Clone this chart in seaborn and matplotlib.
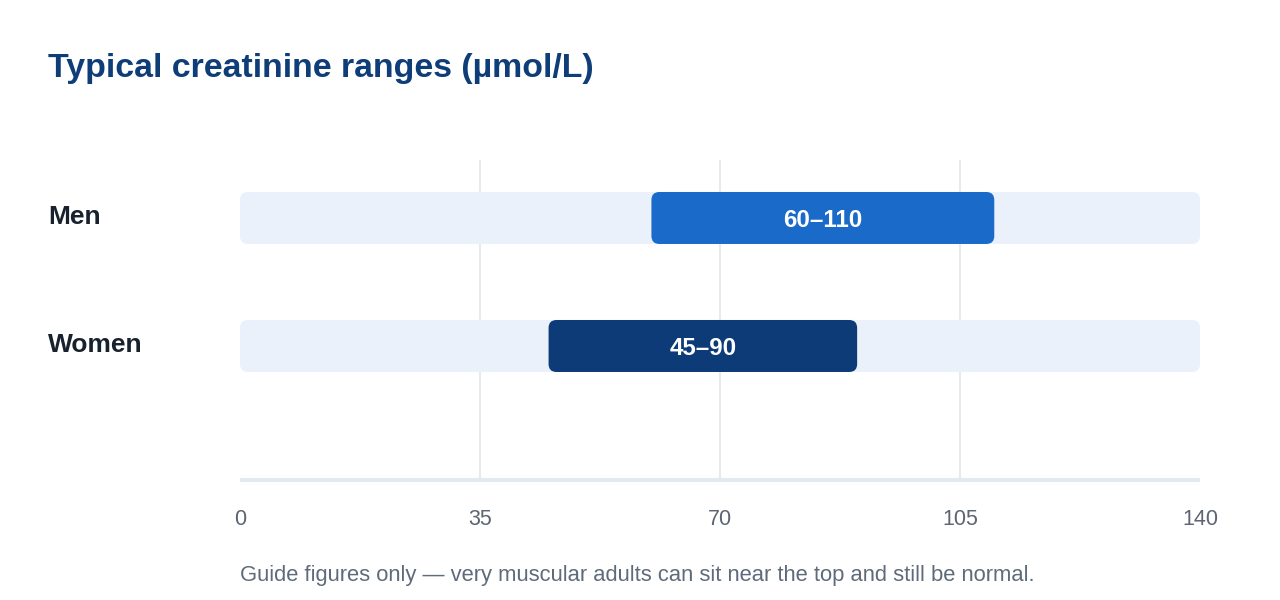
import matplotlib
matplotlib.use("Agg")
import matplotlib.pyplot as plt
from matplotlib.patches import FancyBboxPatch
import seaborn as sns
import pandas as pd

groups = ["Men", "Women"]
low = [60, 45]
high = [110, 90]
range_labels = ["60–110", "45–90"]
scale_max = 140
ticks = [0, 35, 70, 105, 140]
bar_colors = ["#1a6bc9", "#0d3b78"]

sns.set_theme(style="white")
plt.rcParams["font.family"] = ["Liberation Sans", "DejaVu Sans"]

df = pd.DataFrame({"group": groups, "low": low, "high": high, "label": range_labels})
df["width"] = df["high"] - df["low"]
df["track"] = scale_max

fig = plt.figure(figsize=(12.8, 6), dpi=100)
ax = fig.add_axes([240 / 1280, 1 - 480 / 600, 960 / 1280, 320 / 600])

bar_h = 52 / 128
# background track
sns.barplot(data=df, x="track", y="group", orient="h", color="#e9f0fc",
            width=bar_h, ax=ax, zorder=2)
# range bars
ax.barh(range(len(groups)), df["width"], left=df["low"], height=bar_h,
        color=bar_colors, zorder=3)

ax.set_xlim(0, scale_max)
ax.set_ylim(2.047, -0.453)

# swap rectangles for rounded ones
px_x = 960 / scale_max
px_y = 128
r = 8
for p in list(ax.patches):
    x, y = p.get_x(), p.get_y()
    w, h = p.get_width(), p.get_height()
    fb = FancyBboxPatch((x, y), w, h,
                        boxstyle=f"round,pad=0,rounding_size={r / px_x}",
                        mutation_aspect=(r / px_y) / (r / px_x),
                        facecolor=p.get_facecolor(), edgecolor="none",
                        zorder=p.get_zorder())
    p.remove()
    ax.add_patch(fb)

for i, row in df.iterrows():
    ax.text((row["low"] + row["high"]) / 2, i + 0.02, row["label"], ha="center",
            va="center", color="white", fontsize=17.4, fontweight="bold", zorder=4)

ax.vlines(ticks[1:-1], -0.453, 2.047, colors="#e6eaf1", linewidth=1.5, zorder=1)

for s in ["top", "right", "left"]:
    ax.spines[s].set_visible(False)
ax.spines["bottom"].set_color("#e3e9f3")
ax.spines["bottom"].set_linewidth(3)
ax.spines["bottom"].set_capstyle("butt")
ax.spines["bottom"].set_zorder(5)

ax.set_xticks(ticks)
ax.set_xticklabels([str(t) for t in ticks])
ax.tick_params(axis="x", length=0, pad=21, labelsize=15.5, labelcolor="#5b6574")
ax.set_yticks([])
ax.set_xlabel("")
ax.set_ylabel("")

trans = matplotlib.transforms.blended_transform_factory(fig.transFigure, ax.transData)
for i, g in enumerate(groups):
    ax.text(48 / 1280, i - 0.005, g, transform=trans, ha="left", va="center",
            fontsize=19, fontweight="bold", color="#18212e")

fig.text(48 / 1280, 1 - 69 / 600, "Typical creatinine ranges (µmol/L)", ha="left",
         va="center", fontsize=24.4, fontweight="bold", color="#0f3d78")
fig.text(240 / 1280, 1 - 575 / 600,
         "Guide figures only — very muscular adults can sit near the top and still be normal.",
         ha="left", va="center", fontsize=15.8, color="#5f6b7a")

fig.savefig("out.png", dpi=100, facecolor="white")
